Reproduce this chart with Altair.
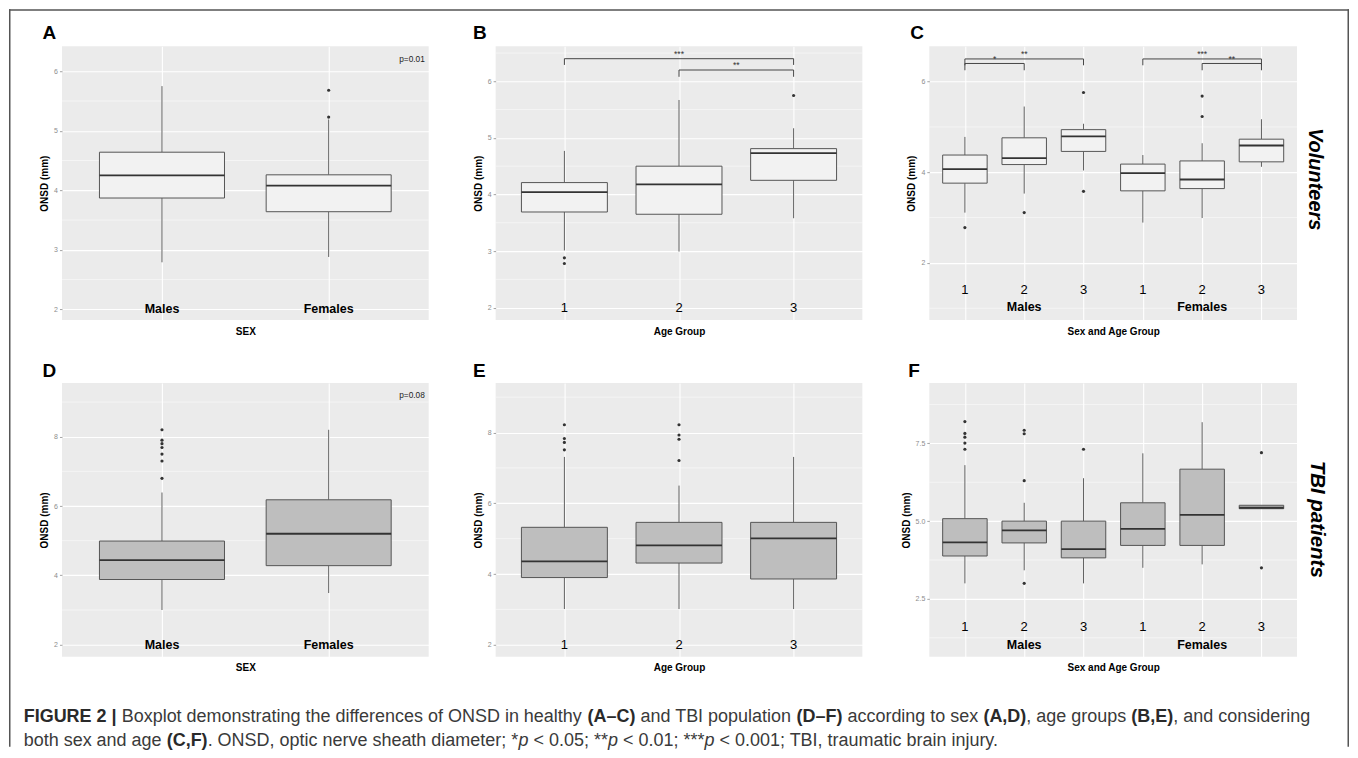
import altair as alt
import pandas as pd

FONT = "Liberation Sans"
BG = "#EBEBEB"
VOL_FILL = "#F2F2F2"
TBI_FILL = "#BEBEBE"

# ---------------- Panel A : volunteers, by sex ----------------
A_labels = ["Males", "Females"]
A_lo = [2.79, 2.88]
A_q1 = [3.87, 3.64]
A_med = [4.25, 4.08]
A_q3 = [4.64, 4.26]
A_hi = [5.75, 5.19]
A_out_cat = [2, 2]
A_out_val = [5.68, 5.23]

# ---------------- Panel B : volunteers, by age group ----------------
B_labels = ["1", "2", "3"]
B_lo = [3.01, 2.99, 3.58]
B_q1 = [3.69, 3.65, 4.25]
B_med = [4.04, 4.18, 4.73]
B_q3 = [4.21, 4.50, 4.81]
B_hi = [4.77, 5.67, 5.17]
B_out_cat = [1, 1, 3]
B_out_val = [2.88, 2.78, 5.75]
B_br_from = [1, 2]
B_br_to = [3, 3]
B_br_y = [6.40, 6.20]
B_br_end = [6.29, 6.08]
B_br_lab = ["***", "**"]
B_br_laby = [6.48, 6.28]

# ---------------- Panel C : volunteers, by sex and age ----------------
C_labels = ["1", "2", "3", "1", "2", "3"]
C_groups = ["Males", "Females"]
C_lo = [3.11, 3.53, 4.04, 2.89, 2.99, 4.12]
C_q1 = [3.76, 4.17, 4.46, 3.59, 3.64, 4.23]
C_med = [4.07, 4.31, 4.79, 3.98, 3.84, 4.59]
C_q3 = [4.38, 4.76, 4.94, 4.18, 4.25, 4.73]
C_hi = [4.78, 5.45, 5.07, 4.38, 4.64, 5.17]
C_out_cat = [1, 2, 3, 3, 5, 5]
C_out_val = [2.78, 3.11, 5.76, 3.58, 5.68, 5.23]
C_br_from = [1, 1, 4, 5]
C_br_to = [3, 2, 6, 6]
C_br_y = [6.50, 6.40, 6.50, 6.40]
C_br_end = [6.36, 6.25, 6.36, 6.25]
C_br_lab = ["**", "*", "***", "**"]
C_br_laby = [6.60, 6.50, 6.60, 6.50]

# ---------------- Panel D : TBI, by sex ----------------
D_labels = ["Males", "Females"]
D_lo = [3.00, 3.49]
D_q1 = [3.88, 4.28]
D_med = [4.44, 5.20]
D_q3 = [4.99, 6.18]
D_hi = [6.39, 8.20]
D_out_cat = [1, 1, 1, 1, 1, 1, 1]
D_out_val = [8.20, 7.90, 7.80, 7.69, 7.50, 7.30, 6.80]

# ---------------- Panel E : TBI, by age group ----------------
E_labels = ["1", "2", "3"]
E_lo = [3.01, 3.01, 3.01]
E_q1 = [3.90, 4.31, 3.86]
E_med = [4.36, 4.81, 5.01]
E_q3 = [5.32, 5.46, 5.46]
E_hi = [7.31, 6.50, 7.31]
E_out_cat = [1, 1, 1, 1, 2, 2, 2, 2]
E_out_val = [8.22, 7.83, 7.72, 7.51, 8.22, 7.93, 7.81, 7.21]

# ---------------- Panel F : TBI, by sex and age ----------------
F_labels = ["1", "2", "3", "1", "2", "3"]
F_groups = ["Males", "Females"]
F_lo = [3.00, 3.42, 3.00, 3.50, 3.61, 5.40]
F_q1 = [3.88, 4.30, 3.82, 4.22, 4.22, 5.40]
F_med = [4.32, 4.70, 4.10, 4.75, 5.20, 5.43]
F_q3 = [5.08, 5.00, 5.00, 5.59, 6.67, 5.51]
F_hi = [6.80, 5.59, 6.38, 7.18, 8.18, 5.51]
F_out_cat = [1, 1, 1, 1, 1, 2, 2, 2, 2, 3, 6, 6]
F_out_val = [8.20, 7.82, 7.70, 7.51, 7.31, 7.92, 7.81, 6.30, 3.00, 7.31, 7.20, 3.50]

# caption segments: (text, style, space before)
CAP1 = [("FIGURE 2 |", "b", False),
        ("Boxplot demonstrating the differences of ONSD in healthy", "r", True),
        ("(A\u2013C)", "b", True), ("and TBI population", "r", True),
        ("(D\u2013F)", "b", True), ("according to sex", "r", True),
        ("(A,D)", "b", True), (", age groups", "r", False),
        ("(B,E)", "b", True), (", and considering", "r", False)]
CAP2 = [("both sex and age", "r", False), ("(C,F)", "b", True),
        (". ONSD, optic nerve sheath diameter; *", "r", False), ("p", "i", False),
        ("< 0.05; **", "r", True), ("p", "i", False),
        ("< 0.01; ***", "r", True), ("p", "i", False),
        ("< 0.001; TBI, traumatic brain injury.", "r", True)]

# Arial / Liberation Sans advance widths (1/1000 em) for caption layout
REG = {" ": 278, "(": 333, ")": 333, ",": 278, ".": 278, ";": 278, "*": 389, "<": 584,
       "|": 260, "\u2013": 556, "A": 667, "B": 667, "C": 722, "D": 722, "E": 667, "F": 611,
       "G": 778, "I": 278, "N": 722, "O": 778, "R": 722, "S": 667, "T": 611, "U": 722,
       "a": 556, "b": 556, "c": 500, "d": 556, "e": 556, "f": 278, "g": 556, "h": 556,
       "i": 222, "j": 222, "k": 500, "l": 222, "m": 833, "n": 556, "o": 556, "p": 556,
       "q": 556, "r": 333, "s": 500, "t": 278, "u": 556, "v": 500, "w": 722, "x": 500,
       "y": 500, "z": 500}
BOLD = {" ": 278, "(": 333, ")": 333, ",": 278, "|": 280, "\u2013": 556, "A": 722, "B": 722,
        "C": 722, "D": 722, "E": 667, "F": 611, "G": 778, "I": 278, "R": 722, "U": 722}


def tw(s, fs, style):
    tab = BOLD if style == "b" else REG
    return sum(tab.get(c, 556) for c in s) * fs / 1000.0


def chain(segs, fs, x0):
    out, x = [], x0
    for t, st, sp in segs:
        if sp:
            x += tw(" ", fs, "r")
        out.append((t, st, x))
        x += tw(t, fs, st)
    return out


def panel(n, lo, q1, med, q3, hi, out_cat, out_val, ydom, major, minor, fmt, fill, xtitle):
    pos = list(range(1, n + 1))
    xs = alt.Scale(domain=[0.4, n + 0.6], nice=False, zero=False)
    ys = alt.Scale(domain=ydom, nice=False, zero=False)
    xa = alt.Axis(values=pos, grid=True, gridColor="white", gridWidth=1.1, labels=False,
                  ticks=False, domain=False, title=xtitle, titleFont=FONT, titleFontSize=10,
                  titleFontWeight="bold", titleColor="black", titlePadding=6)
    ya = alt.Axis(values=major, format=fmt, grid=True, gridColor="white", gridWidth=1.1,
                  labelFont=FONT, labelFontSize=7, labelColor="#8c8c8c", labelPadding=2,
                  ticks=True, tickColor="#8c8c8c", tickSize=2.5, tickWidth=0.8, domain=False,
                  title="ONSD (mm)", titleFont=FONT, titleFontSize=10, titleFontWeight="bold",
                  titleColor="black", titlePadding=4)

    def X(f):
        return alt.X(f"{f}:Q", scale=xs, axis=xa)

    def Y(f):
        return alt.Y(f"{f}:Q", scale=ys, axis=ya)

    boxes = pd.DataFrame({"pos": pos, "xl": [p - 0.375 for p in pos], "xr": [p + 0.375 for p in pos],
                          "q1": q1, "med": med, "q3": q3})
    whisk = pd.DataFrame({"pos": pos + pos, "a": list(lo) + list(q3), "b": list(q1) + list(hi)})
    outs = pd.DataFrame({"pos": out_cat, "v": out_val})
    mins = pd.DataFrame({"v": minor})
    layers = [
        alt.Chart(mins).mark_rule(color="white", strokeWidth=0.5).encode(y=Y("v")),
        alt.Chart(whisk).mark_rule(color="#606060", strokeWidth=1).encode(x=X("pos"), y=Y("a"), y2="b"),
        alt.Chart(boxes).mark_rect(fill=fill, stroke="#555555", strokeWidth=1).encode(
            x=X("xl"), x2="xr", y=Y("q1"), y2="q3"),
        alt.Chart(boxes).mark_rule(color="#333333", strokeWidth=1.8).encode(x=X("xl"), x2="xr", y=Y("med")),
        alt.Chart(outs).mark_circle(size=10, color="#333333", opacity=1).encode(x=X("pos"), y=Y("v")),
    ]
    return layers, X, Y


def text_layer(texts, cats, yv, X, Y, size, bold, color="black"):
    df = pd.DataFrame({"t": texts, "pos": cats, "y": yv})
    return alt.Chart(df).mark_text(font=FONT, fontSize=size, fontWeight="bold" if bold else "normal",
                                   color=color).encode(x=X("pos"), y=Y("y"), text="t:N")


def brackets(frm, to, yb, yend, lab, laby, X, Y):
    segs = pd.DataFrame({"x1": frm + frm + to, "x2": to + frm + to,
                         "y1": yb + yend + yend, "y2": yb + yb + yb})
    rule = alt.Chart(segs).mark_rule(color="#444444", strokeWidth=1).encode(
        x=X("x1"), x2="x2", y=Y("y1"), y2="y2")
    mid = [(a + b) / 2 for a, b in zip(frm, to)]
    txt = text_layer(lab, mid, laby, X, Y, 8.5, False, "#333333")
    return [rule, txt]


def label(t, dx, dy, size=19, angle=0, italic=False, align="left", baseline="alphabetic"):
    kw = dict(font=FONT, fontSize=size, fontWeight="bold", align=align, baseline=baseline,
              color="black", angle=angle)
    if italic:
        kw["fontStyle"] = "italic"
    return alt.Chart(pd.DataFrame({"t": [t]})).mark_text(**kw).encode(
        x=alt.value(dx), y=alt.value(dy), text="t:N")


H = 274

# ---- A ----
L, X, Y = panel(2, A_lo, A_q1, A_med, A_q3, A_hi, A_out_cat, A_out_val, [1.82, 6.42],
                [2, 3, 4, 5, 6], [2.5, 3.5, 4.5, 5.5], "d", VOL_FILL, "SEX")
L += [text_layer(A_labels, [1, 2], [2.0, 2.0], X, Y, 12.5, True),
      text_layer(["p=0.01"], [2.5], [6.19], X, Y, 8.3, False, "#222222"),
      label("A", -19.5, -7.7)]
pA = alt.layer(*L).properties(width=367, height=H)

# ---- B ----
L, X, Y = panel(3, B_lo, B_q1, B_med, B_q3, B_hi, B_out_cat, B_out_val, [1.78, 6.62],
                [2, 3, 4, 5, 6], [2.5, 3.5, 4.5, 5.5, 6.5], "d", VOL_FILL, "Age Group")
L += [text_layer(B_labels, [1, 2, 3], [2.0] * 3, X, Y, 13, False)]
L += brackets(B_br_from, B_br_to, B_br_y, B_br_end, B_br_lab, B_br_laby, X, Y)
L += [label("B", -22.7, -7.7)]
pB = alt.layer(*L).properties(width=367, height=H)

# ---- C ----
L, X, Y = panel(6, C_lo, C_q1, C_med, C_q3, C_hi, C_out_cat, C_out_val, [0.74, 6.78],
                [2, 4, 6], [1, 3, 5], "d", VOL_FILL, "Sex and Age Group")
L += [text_layer(C_labels, [1, 2, 3, 4, 5, 6], [1.41] * 6, X, Y, 13, False),
      text_layer(C_groups, [2, 5], [1.02, 1.02], X, Y, 12.5, True)]
L += brackets(C_br_from, C_br_to, C_br_y, C_br_end, C_br_lab, C_br_laby, X, Y)
L += [label("C", -19, -7.7),
      label("Volunteers", 386, 133, size=20, angle=90, italic=True, align="center", baseline="middle")]
pC = alt.layer(*L).properties(width=368, height=H)

# ---- D (also carries the figure frame and caption) ----
L, X, Y = panel(2, D_lo, D_q1, D_med, D_q3, D_hi, D_out_cat, D_out_val, [1.65, 9.55],
                [2, 4, 6, 8], [3, 5, 7, 9], "d", TBI_FILL, "SEX")
L += [text_layer(D_labels, [1, 2], [2.0, 2.0], X, Y, 12.5, True),
      text_layer(["p=0.08"], [2.5], [9.18], X, Y, 8.3, False, "#222222"),
      label("D", -19.5, -6)]
dummy = pd.DataFrame({"k": [0]})
FR = "#555555"
L += [alt.Chart(dummy).mark_rule(color=FR, strokeWidth=1.5).encode(
          x=alt.value(-53), x2=alt.value(1288), y=alt.value(-373.25)),
      alt.Chart(dummy).mark_rule(color=FR, strokeWidth=1.5).encode(
          x=alt.value(-52.25), y=alt.value(-374), y2=alt.value(364)),
      alt.Chart(dummy).mark_rule(color=FR, strokeWidth=1.5).encode(
          x=alt.value(1287.25), y=alt.value(-374), y2=alt.value(364))]
CAP_FS = 18.0
for segs, base in ((CAP1, 339.5), (CAP2, 363.0)):
    for t, st, x in chain(segs, CAP_FS, 22.7 - 61):
        kw = dict(font=FONT, fontSize=CAP_FS, align="left", baseline="alphabetic", color="#3a3a3a")
        if st == "b":
            kw["fontWeight"] = "bold"
            kw["color"] = "#2a2a2a"
        if st == "i":
            kw["fontStyle"] = "italic"
        L.append(alt.Chart(pd.DataFrame({"t": [t]})).mark_text(**kw).encode(
            x=alt.value(x), y=alt.value(base), text="t:N"))
pD = alt.layer(*L).properties(width=367, height=H)

# ---- E ----
L, X, Y = panel(3, E_lo, E_q1, E_med, E_q3, E_hi, E_out_cat, E_out_val, [1.66, 9.40],
                [2, 4, 6, 8], [3, 5, 7, 9], "d", TBI_FILL, "Age Group")
L += [text_layer(E_labels, [1, 2, 3], [2.0] * 3, X, Y, 13, False), label("E", -22.7, -6)]
pE = alt.layer(*L).properties(width=367, height=H)

# ---- F ----
L, X, Y = panel(6, F_lo, F_q1, F_med, F_q3, F_hi, F_out_cat, F_out_val, [0.64, 9.44],
                [2.5, 5.0, 7.5], [1.25, 3.75, 6.25, 8.75], ".1f", TBI_FILL, "Sex and Age Group")
L += [text_layer(F_labels, [1, 2, 3, 4, 5, 6], [1.60] * 6, X, Y, 13, False),
      text_layer(F_groups, [2, 5], [1.01, 1.01], X, Y, 12.5, True),
      label("F", -21, -6),
      label("TBI patients", 387.7, 136.3, size=20.5, angle=90, italic=True, align="center",
            baseline="middle")]
pF = alt.layer(*L).properties(width=368, height=H)

chart = alt.concat(pA, pB, pC, pD, pE, pF, columns=3,
                   spacing=alt.RowColnumber(row=63, column=67), bounds="flush").properties(
    padding=0, background="white").configure_view(stroke=None, fill=BG)

chart.save("out.html", embed_options={"renderer": "svg", "actions": False})
